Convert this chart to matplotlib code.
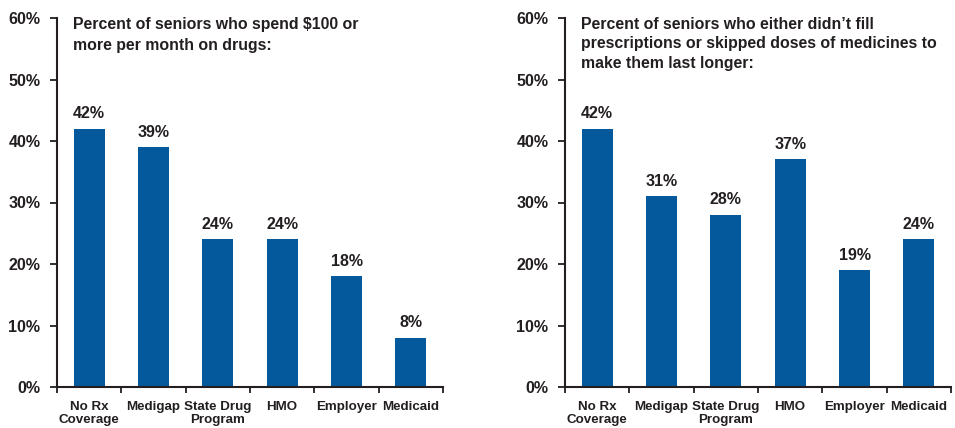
import numpy as np
import matplotlib
matplotlib.use("Agg")
import matplotlib.pyplot as plt
from matplotlib.ticker import FixedLocator, PercentFormatter

categories = ["No Rx\nCoverage", "Medigap", "State Drug\nProgram", "HMO", "Employer", "Medicaid"]
spend_100 = [42, 39, 24, 24, 18, 8]
skipped_doses = [42, 31, 28, 37, 19, 24]
titles = ["Percent of seniors who spend $100 or\nmore per month on drugs:",
          "Percent of seniors who either didn\u2019t fill\nprescriptions or skipped doses of medicines to\nmake them last longer:"]

bar_color = "#03599c"
ink = "#231f20"

plt.rcParams["font.family"] = ["Liberation Sans", "DejaVu Sans"]
plt.rcParams["font.weight"] = "bold"

fig = plt.figure(figsize=(9.55, 4.28), dpi=100)
ax1 = fig.add_axes([57 / 955, 1 - 387 / 428, 386 / 955, 369 / 428])
ax2 = fig.add_axes([565 / 955, 1 - 387 / 428, 386 / 955, 369 / 428])

for ax, vals, title, lsp in [(ax1, spend_100, titles[0], 1.45), (ax2, skipped_doses, titles[1], 1.35)]:
    x = np.arange(len(categories))
    ax.bar(x, vals, width=0.48, color=bar_color)
    for xi, v in zip(x, vals):
        ax.text(xi, v + 1.2, f"{v}%", ha="center", va="bottom",
                fontsize=11.5, fontweight="bold", color=ink)
    ax.set_xlim(-0.5, len(categories) - 0.5)
    ax.set_ylim(0, 60)
    ax.set_yticks(np.arange(0, 61, 10))
    ax.yaxis.set_major_formatter(PercentFormatter(decimals=0))
    ax.set_xticks(x)
    ax.set_xticklabels(categories, fontsize=9.6, fontweight="bold", color=ink, linespacing=1.12)
    ax.xaxis.set_minor_locator(FixedLocator(np.arange(-0.5, len(categories), 1.0)))
    ax.tick_params(axis="x", which="major", length=0, pad=10)
    ax.tick_params(axis="x", which="minor", length=4, width=1.3, color=ink, direction="out")
    ax.tick_params(axis="y", length=5, width=1.3, color=ink, direction="out",
                   labelsize=11.5, labelcolor=ink, pad=7)
    for lbl in ax.get_yticklabels():
        lbl.set_fontweight("bold")
    for s in ["top", "right"]:
        ax.spines[s].set_visible(False)
    for s in ["left", "bottom"]:
        ax.spines[s].set_linewidth(1.5)
        ax.spines[s].set_color(ink)
    ax.text(0.042, 1.002, title, transform=ax.transAxes, ha="left", va="top",
            fontsize=11.4, fontweight="bold", color=ink, linespacing=lsp)

fig.savefig("out.png", dpi=100)
